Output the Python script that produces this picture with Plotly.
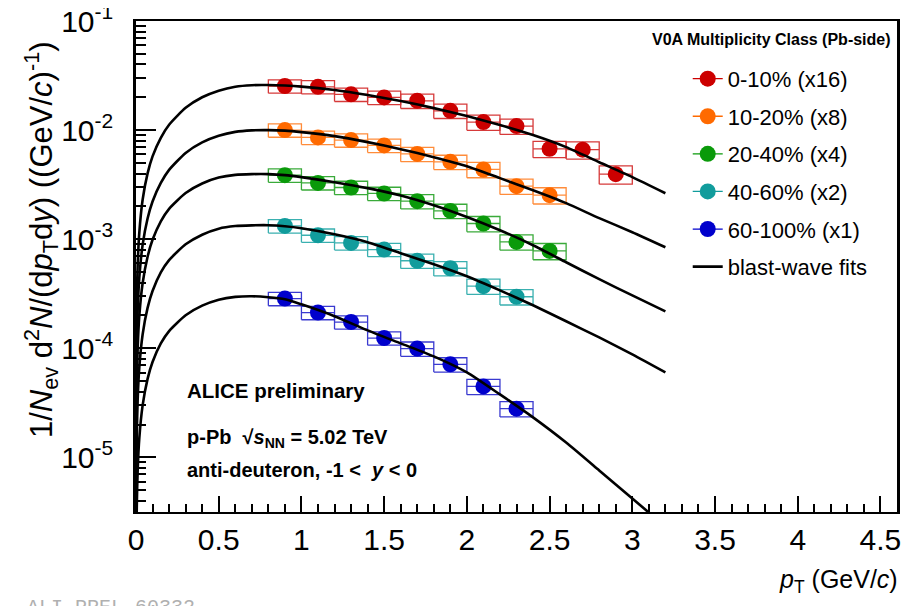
import plotly.graph_objects as go

# ---------------- data ----------------
PT = [0.9, 1.1, 1.3, 1.5, 1.7, 1.9, 2.1, 2.3, 2.5, 2.7, 2.9]
BIN_HALF_WIDTH = 0.1
SYS_REL = [0.14, 0.14, 0.14, 0.14, 0.15, 0.15, 0.16, 0.16, 0.17, 0.18, 0.19]

Y_0_10 = [0.02535, 0.02495, 0.02126, 0.01995, 0.01857, 0.01503, 0.01184, 0.01088, 0.006735, 0.00662, 0.003947]
Y_10_20 = [0.0100, 0.00857, 0.00810, 0.00724, 0.006048, 0.005118, 0.004358, 0.003063, 0.002533]
Y_20_40 = [0.003866, 0.003284, 0.002980, 0.002626, 0.002232, 0.001818, 0.001393, 0.000944, 0.000781]
Y_40_60 = [0.001324, 0.001088, 0.000925, 0.000804, 0.000635, 0.000542, 0.000371, 0.000297]
Y_60_100 = [0.0002856, 0.0002126, 0.0001742, 0.0001243, 0.0000994, 0.0000713, 0.0000448, 0.0000280]

PT_FIT = [0.0005, 0.002, 0.005, 0.01, 0.02, 0.04, 0.07, 0.1, 0.15, 0.2, 0.3, 0.4, 0.5, 0.6, 0.7,
          0.8, 0.9, 1.0, 1.2, 1.4, 1.6, 1.8, 2.0, 2.2, 2.4, 2.6, 2.8, 3.0, 3.2]
FIT_0_10 = [2.9e-5, 1.15e-4, 2.87e-4, 5.75e-4, 0.00115, 0.0023, 0.00401, 0.00575, 0.0085, 0.0112,
            0.0160, 0.0200, 0.0230, 0.0250, 0.0258, 0.02587, 0.0256, 0.02506, 0.02328, 0.02094,
            0.01845, 0.01591, 0.01344, 0.01111, 0.0090, 0.00698, 0.00508, 0.00371, 0.00264]
FIT_10_20 = [1.11e-5, 4.44e-5, 1.11e-4, 2.22e-4, 4.44e-4, 8.88e-4, 0.00155, 0.00222, 0.00328, 0.00432,
             0.00618, 0.00772, 0.00888, 0.00964, 0.00995, 0.0100, 0.00989, 0.00959, 0.00881, 0.00776,
             0.00669, 0.00565, 0.00467, 0.00363, 0.00281, 0.00214, 0.00156, 0.00116, 0.000844]
FIT_20_40 = [4.9e-6, 1.98e-5, 4.9e-5, 9.9e-5, 1.98e-4, 3.95e-4, 6.91e-4, 9.88e-4, 0.00146, 0.0019,
             0.00265, 0.00324, 0.00367, 0.00389, 0.00395, 0.00395, 0.00387, 0.00371, 0.00333, 0.00294,
             0.00252, 0.00205, 0.00160, 0.00121, 0.000881, 0.000615, 0.00043, 0.000306, 0.000218]
FIT_40_60 = [1.68e-6, 6.7e-6, 1.68e-5, 3.35e-5, 6.7e-5, 1.34e-4, 2.35e-4, 3.35e-4, 4.96e-4, 6.43e-4,
             8.98e-4, 0.0011, 0.00125, 0.00132, 0.00134, 0.001344, 0.001316, 0.001262, 0.001111, 0.000939,
             0.000744, 0.00059, 0.000458, 0.00034, 0.000248, 0.000177, 0.000126, 8.81e-5, 6.02e-5]
FIT_60_100 = [3.75e-7, 1.5e-6, 3.75e-6, 7.5e-6, 1.5e-5, 3.0e-5, 5.25e-5, 7.5e-5, 1.11e-4, 1.44e-4,
              2.01e-4, 2.46e-4, 2.79e-4, 2.96e-4, 3.0e-4, 2.94e-4, 2.82e-4, 2.53e-4, 1.97e-4, 1.46e-4,
              1.11e-4, 8.44e-5, 6.02e-5, 3.78e-5, 2.33e-5, 1.37e-5, 7.6e-6, 4.2e-6, 2.33e-6]

LABELS = ["0-10% (x16)", "10-20% (x8)", "20-40% (x4)", "40-60% (x2)", "60-100% (x1)"]
SERIES = [Y_0_10, Y_10_20, Y_20_40, Y_40_60, Y_60_100]
FITS = [FIT_0_10, FIT_10_20, FIT_20_40, FIT_40_60, FIT_60_100]

Y_TICKS = [1e-5, 1e-4, 1e-3, 1e-2, 1e-1]
Y_TICKTEXT = ["10<sup>-5</sup>", "10<sup>-4</sup>", "10<sup>-3</sup>", "10<sup>-2</sup>", "10<sup>-1</sup>"]

# ---------------- styles ----------------
MARKER_COLORS = ["#cc0000", "#ff6a00", "#0a9a0a", "#119c9c", "#0000cc"]
BOX_COLORS = ["#d63a3a", "#ff8c3a", "#3aaa3a", "#3ab0b0", "#3a3ad0"]
FONT = "Liberation Sans, Arial, Helvetica, sans-serif"

fig = go.Figure()

# legend-only entries
for lab, mc in zip(LABELS, MARKER_COLORS):
    fig.add_trace(go.Scatter(x=[None], y=[None], mode="lines+markers", name=lab,
                             legendgroup=lab,
                             line=dict(color=mc, width=1.3),
                             marker=dict(color=mc, size=16, symbol="circle")))
fig.add_trace(go.Scatter(x=[None], y=[None], mode="lines", name="blast-wave fits",
                         legendgroup="fits", line=dict(color="black", width=2.6)))

# systematic boxes
for ys, bc in zip(SERIES, BOX_COLORS):
    bx, by = [], []
    for p, v, s in zip(PT, ys, SYS_REL):
        x0, x1 = p - BIN_HALF_WIDTH, p + BIN_HALF_WIDTH
        y0, y1 = v * (1 - s), v * (1 + s)
        bx += [x0, x1, x1, x0, x0, None]
        by += [y0, y0, y1, y1, y0, None]
    fig.add_trace(go.Scatter(x=bx, y=by, mode="lines", showlegend=False, hoverinfo="skip",
                             line=dict(color=bc, width=1.3)))

# data points
for ys, mc, bc in zip(SERIES, MARKER_COLORS, BOX_COLORS):
    n = len(ys)
    fig.add_trace(go.Scatter(x=PT[:n], y=ys, mode="markers", showlegend=False,
                             marker=dict(color=mc, size=16, symbol="circle", line=dict(width=0)),
                             error_x=dict(type="constant", value=BIN_HALF_WIDTH, width=0,
                                          thickness=1.3, color=bc)))

# blast-wave fits
for fy in FITS:
    fig.add_trace(go.Scatter(x=PT_FIT, y=fy, mode="lines", showlegend=False,
                             line=dict(color="black", width=2.6, shape="spline", smoothing=0.6)))

minor_y = [m * 10 ** e for e in range(-6, -1) for m in range(2, 10)]

# the page body adds an 8 px offset, so the figure is 8 px smaller and margins shifted
fig.update_layout(
    width=904, height=598,
    margin=dict(l=128, r=15, t=13, b=94, autoexpand=False),
    paper_bgcolor="white", plot_bgcolor="white",
    font=dict(family=FONT, color="black"),
    showlegend=True,
    legend=dict(x=0.725, y=0.925, xanchor="left", yanchor="top",
                font=dict(size=22, family=FONT), bgcolor="rgba(0,0,0,0)",
                traceorder="grouped", tracegroupgap=6, itemsizing="trace"),
    xaxis=dict(range=[0, 4.6], tick0=0, dtick=0.5, ticks="inside", ticklen=16, tickwidth=1.5,
               tickcolor="black", tickfont=dict(size=30, family=FONT), showgrid=False, zeroline=False,
               showline=True, linewidth=2, linecolor="black", mirror=True, automargin=False,
               ticklabeloverflow="allow",
               minor=dict(dtick=0.1, ticks="inside", ticklen=8, tickwidth=1.5, tickcolor="black",
                          showgrid=False)),
    yaxis=dict(type="log", range=[-5.5, -1], tickvals=Y_TICKS, ticktext=Y_TICKTEXT,
               ticks="inside", ticklen=20, tickwidth=1.5, tickcolor="black",
               tickfont=dict(size=30, family=FONT), showgrid=False, zeroline=False,
               showline=True, linewidth=2.5, linecolor="black", mirror=True, automargin=False,
               ticklabeloverflow="allow", ticklabelstandoff=14,
               minor=dict(tickvals=minor_y, ticks="inside", ticklen=10, tickwidth=1.5,
                          tickcolor="black", showgrid=False)),
)

annotations = [
    dict(text="<b>V0A Multiplicity Class (Pb-side)</b>", x=1.0, y=1.0, xref="paper", yref="paper",
         xanchor="right", yanchor="top", xshift=-4, yshift=-8, showarrow=False,
         font=dict(size=16, family=FONT)),
    dict(text="<b>ALICE preliminary</b>", x=0.064, y=0.247, xref="paper", yref="paper",
         xanchor="left", yanchor="middle", showarrow=False, font=dict(size=20.5, family=FONT)),
    dict(text="<b>p-Pb  √<i>s</i><sub>NN</sub> = 5.02 TeV</b>", x=0.064, y=0.150, xref="paper",
         yref="paper", xanchor="left", yanchor="middle", showarrow=False,
         font=dict(size=20, family=FONT)),
    dict(text="<b>anti-deuteron, -1 <  <i>y</i> < 0</b>", x=0.064, y=0.086, xref="paper",
         yref="paper", xanchor="left", yanchor="middle", showarrow=False,
         font=dict(size=20, family=FONT)),
    dict(text="<i>p</i><sub>T</sub> (GeV/<i>c</i>)", x=1.0, y=-0.14, xref="paper", yref="paper",
         xanchor="right", yanchor="middle", xshift=3, showarrow=False, font=dict(size=25, family=FONT)),
    dict(text="1/<i>N</i><sub>ev</sub> d<sup>2</sup><i>N</i>/(d<i>p</i><sub>T</sub>d<i>y</i>) ((GeV/<i>c</i>)<sup>-1</sup>)",
         x=-0.125, y=0.964, xref="paper", yref="paper", xanchor="center", yanchor="top",
         textangle=-90, showarrow=False, font=dict(size=31, family=FONT)),
    dict(text="ALI-PREL-60332", x=-0.146, y=-0.167, xref="paper", yref="paper",
         xanchor="left", yanchor="top", showarrow=False,
         font=dict(size=20, family="Liberation Mono, Courier New, monospace", color="#b0b0b0")),
]
fig.update_layout(annotations=annotations)

fig.write_html("out.html")
